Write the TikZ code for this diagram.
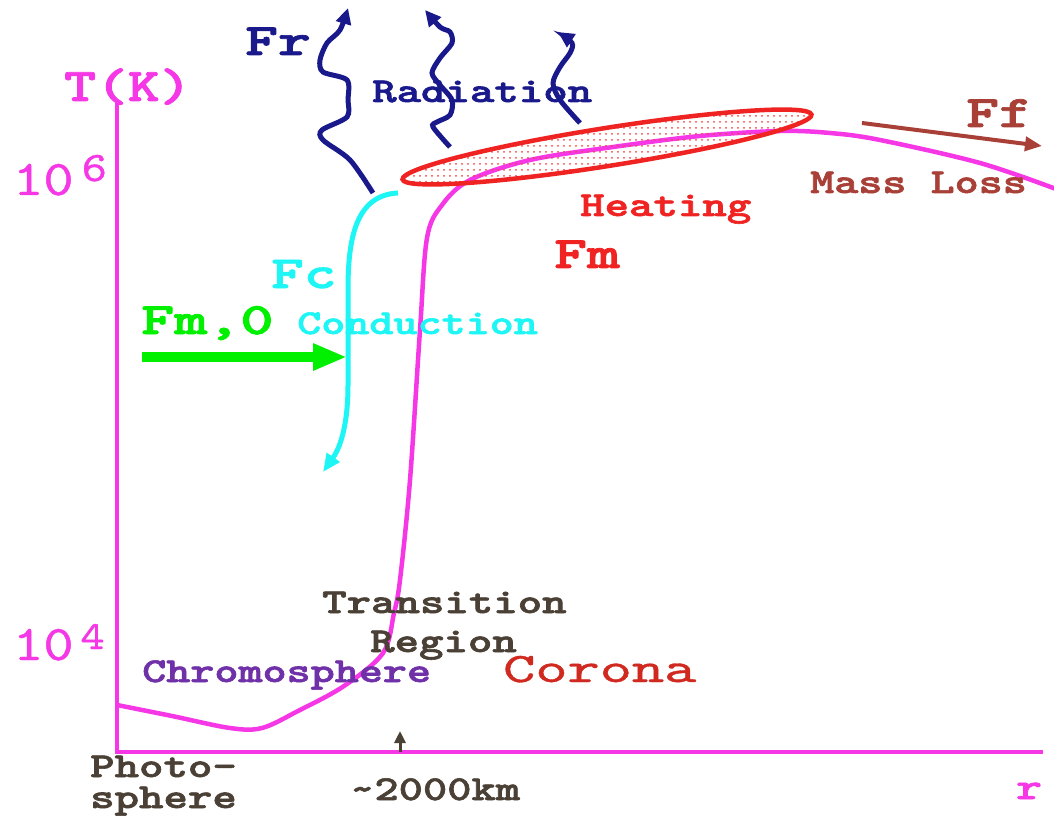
\documentclass[tikz,border=0pt]{standalone}
\usepackage{fontspec}
\usepackage{graphicx}
\newfontfamily\cour[FakeBold=1.6]{lmmonolt10-bold.otf}
\newfontfamily\courrg[FakeBold=0.8]{lmmono10-regular.otf}
\usetikzlibrary{arrows.meta,patterns.meta}

\definecolor{tcurve}{RGB}{245,55,230}
\definecolor{radblue}{RGB}{25,25,140}
\definecolor{heatred}{RGB}{240,35,35}
\definecolor{condcyan}{RGB}{30,245,245}
\definecolor{fmgreen}{RGB}{0,240,0}
\definecolor{lossbrown}{RGB}{168,64,56}
\definecolor{darktext}{RGB}{74,64,53}
\definecolor{chromo}{RGB}{112,48,168}
\definecolor{corred}{RGB}{208,42,32}

\newcommand{\fsz}[1]{\fontsize{#1}{#1}\selectfont}
\newcommand{\cw}[2][1.33]{\scalebox{#1}[1]{#2}}

\begin{document}
\begin{tikzpicture}[x=1pt,y=-1pt,
    lbl/.style={font=\cour\fsz{35}, inner sep=0pt, anchor=base west},
    biglbl/.style={lbl, font=\cour\fsz{45}},
    axis/.style={tcurve, line width=4.5pt},
    radwave/.style={radblue, line width=5pt, -{Triangle[length=16pt,width=15pt]}},
    heatzone/.style={heatred, line width=4.5pt,
        pattern={Dots[distance=6pt,radius=1pt]}, pattern color=heatred!85}]
    \useasboundingbox (0,0) rectangle (1054,818);

    % axes
    \coordinate (origin) at (117,752);
    \coordinate (ytop) at (117,103);
    \coordinate (xend) at (1043,752);
    \draw[axis] (ytop) -- (origin) -- (xend);
    \node[lbl, tcurve, font=\cour\fsz{47}] (tk) at (64,101) {\cw[1.29]{T(K)}};
    \node[lbl, tcurve, font=\courrg\fsz{50}] (tsix) at (13,195) {\cw[1.15]{10\kern7pt\raisebox{14pt}{\fsz{42}6}}};
    \node[lbl, tcurve, font=\courrg\fsz{50}] (tfour) at (13,660) {\cw[1.15]{10\kern6pt\raisebox{11pt}{\fsz{40}4}}};
    \node[lbl, tcurve, font=\cour\fsz{37}] (rlbl) at (1016,799) {\cw{r}};

    % temperature profile
    \draw[tcurve, line width=4.5pt] plot[smooth, tension=0.55] coordinates {
        (117,705) (172,716) (230,728) (262,728) (298,711) (344,686) (383,653)
        (394,613) (400,580) (410,480) (420,330) (427,238) (442,205) (470,180)
        (530,160) (613,147) (700,136) (780,131) (830,133) (880,140) (980,163) (1056,189)};

    % heating region
    \draw[heatzone, rotate around={9:(607,147)}] (607,147) ellipse[x radius=207pt, y radius=19pt];
    \node[lbl, heatred] (heat) at (580,216) {\cw{Heating}};
    \node[biglbl, heatred] (fm) at (554,268) {\cw[1.39]{Fm}};

    % radiation
    \draw[radwave] plot[smooth] coordinates {(373,193) (350,160) (323,140) (322,130)
        (347,117) (348,100) (347,80) (323,72) (320,60) (327,43) (340,30) (348,8)};
    \draw[radwave] plot[smooth] coordinates {(450,147) (433,127) (437,122) (450,115)
        (452,100) (440,85) (432,73) (440,58) (452,43) (450,32) (440,27) (425,10)};
    \draw[radwave] plot[smooth] coordinates {(580,123) (560,100) (553,83) (560,67)
        (570,53) (572,43) (558,32)};
    \node[biglbl, radblue] (fr) at (245,55) {\cw[1.39]{Fr}};
    \node[lbl, radblue] (rad) at (372,102) {\cw{Radiation}};

    % conduction
    \coordinate (cstart) at (398,193);
    \coordinate (cend) at (323,472);
    \draw[condcyan, line width=5pt, -{Triangle[length=18pt,width=15pt]}]
        (cstart) .. controls (355,195) and (348,240) .. (348,290) -- (348,385)
        .. controls (348,420) and (342,445) .. (cend);
    \node[biglbl, condcyan, font=\cour\fsz{46}] (fc) at (271,288) {\cw[1.35]{Fc}};
    \node[lbl, condcyan] (cond) at (297,334) {\cw[1.31]{Conduction}};

    % mechanical flux in
    \coordinate (fmstart) at (142,357);
    \coordinate (fmend) at (347,357);
    \draw[fmgreen, line width=10pt, -{Triangle[length=34pt,width=25pt]}] (fmstart) -- (fmend);
    \node[biglbl, fmgreen] (fmzero) at (141,334) {\cw[1.4]{Fm,0}};

    % mass loss
    \coordinate (ffstart) at (862,123);
    \coordinate (ffend) at (1042,146);
    \draw[lossbrown, line width=4pt, -{Triangle[length=17pt,width=14pt]}] (ffstart) -- (ffend);
    \node[biglbl, lossbrown] (ff) at (966,127) {\cw[1.39]{Ff}};
    \node[lbl, lossbrown] (loss) at (810,193) {\cw[1.31]{Mass Loss}};

    % regions
    \node[lbl, darktext] (trans) at (322,613) {\cw{Transition}};
    \node[lbl, darktext] (region) at (370,652) {\cw{Region}};
    \node[lbl, chromo] (chrom) at (142,682) {\cw[1.31]{Chromosphere}};
    \node[lbl, corred, font=\courrg\fsz{42}] (corona) at (503,682) {\cw[1.46]{Corona}};
    \node[lbl, darktext] (photo) at (90,777) {\cw{Photo-}};
    \node[lbl, darktext] (sphere) at (90,808) {\cw{sphere}};
    \node[lbl, darktext] (height) at (350,800) {\cw[1.32]{\char`\~2000km}};
    \coordinate (hbase) at (400,752);
    \coordinate (htip) at (400,731);
    \draw[darktext, line width=3pt, -{Triangle[length=12pt,width=11pt]}] (hbase) -- (htip);
\end{tikzpicture}
\end{document}
